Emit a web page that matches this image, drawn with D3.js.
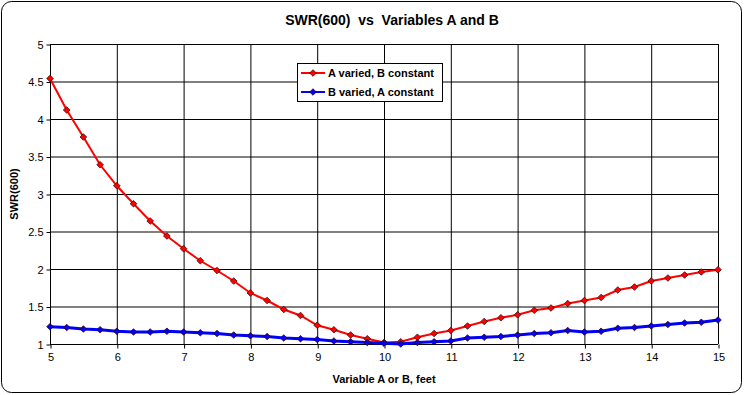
<!DOCTYPE html>
<html>
<head>
<meta charset="utf-8">
<script src="https://cdn.jsdelivr.net/npm/d3@7"></script>
<style>
  body { margin: 0; background: #fff; }
  text { font-family: "Liberation Sans", Arial, sans-serif; }
</style>
</head>
<body>
<svg id="chart" width="745" height="395"></svg>
<script>
// x positions (feet), same for both series
const feet = [5, 5.25, 5.5, 5.75, 6, 6.25, 6.5, 6.75, 7, 7.25, 7.5, 7.75, 8, 8.25, 8.5, 8.75,
  9, 9.25, 9.5, 9.75, 10, 10.25, 10.5, 10.75, 11, 11.25, 11.5, 11.75, 12, 12.25, 12.5, 12.75,
  13, 13.25, 13.5, 13.75, 14, 14.25, 14.5, 14.75, 15]

const aVaried = [4.54, 4.12, 3.76, 3.39, 3.11, 2.87, 2.64, 2.44, 2.27, 2.11, 1.98, 1.84,
  1.68, 1.58, 1.46, 1.38, 1.25, 1.19, 1.12, 1.07, 1.02, 1.03, 1.09, 1.14, 1.18, 1.24,
  1.30, 1.35, 1.39, 1.45, 1.48, 1.54, 1.58, 1.62, 1.72, 1.76, 1.84, 1.88, 1.92, 1.96, 1.99]

const bVaried = [1.23, 1.22, 1.20, 1.19, 1.17, 1.16, 1.16, 1.17, 1.16, 1.15, 1.14, 1.12,
  1.11, 1.10, 1.08, 1.07, 1.06, 1.04, 1.03, 1.02, 1.01, 1.00, 1.02, 1.03, 1.04, 1.08,
  1.09, 1.10, 1.12, 1.14, 1.15, 1.18, 1.16, 1.17, 1.21, 1.22, 1.24, 1.26, 1.28, 1.29, 1.32]

const xTicks = [5, 6, 7, 8, 9, 10, 11, 12, 13, 14, 15]
const yTicks = [1, 1.5, 2, 2.5, 3, 3.5, 4, 4.5, 5]

const seriesNames = ['A varied, B constant', 'B varied, A constant']
const seriesColors = ['#ff0000', '#0000ff']
const seriesWidths = [2, 3]

const svg = d3.select('#chart')

// outer frame
svg.append('rect')
    .attr('x', 1.5).attr('y', 1.5)
    .attr('width', 740).attr('height', 391)
    .attr('rx', 10).attr('ry', 10)
    .attr('fill', '#fff')
    .attr('stroke', '#000')
    .attr('stroke-width', 1)

const plot = {left: 50, right: 718, top: 44, bottom: 344}

const x = d3.scaleLinear().domain([5, 15]).range([plot.left, plot.right])
const y = d3.scaleLinear().domain([1, 5]).range([plot.bottom, plot.top])

// gridlines
svg.append('g')
  .selectAll('line')
  .data(xTicks)
  .enter().append('line')
    .attr('x1', d => x(d) + 0.5).attr('x2', d => x(d) + 0.5)
    .attr('y1', plot.top).attr('y2', plot.bottom)
    .attr('stroke', '#000')

svg.append('g')
  .selectAll('line')
  .data(yTicks)
  .enter().append('line')
    .attr('x1', plot.left).attr('x2', plot.right)
    .attr('y1', d => y(d) + 0.5).attr('y2', d => y(d) + 0.5)
    .attr('stroke', '#000')

// axes
const xAxis = d3.axisBottom(x).tickValues(xTicks).tickSize(4).tickPadding(5).tickFormat(d3.format('d'))
const yAxis = d3.axisLeft(y).tickValues(yTicks).tickSize(4).tickPadding(3).tickFormat(d => d)

svg.append('g')
    .attr('transform', 'translate(0.5,' + (plot.bottom + 0.5) + ')')
    .call(xAxis)
    .call(g => g.select('.domain').remove())
    .call(g => g.selectAll('text').attr('font-size', 11).attr('fill', '#000').attr('font-family', '"Liberation Sans", Arial, sans-serif'))
    .call(g => g.selectAll('line').attr('stroke', '#000'))

svg.append('g')
    .attr('transform', 'translate(' + (plot.left + 0.5) + ',0.5)')
    .call(yAxis)
    .call(g => g.select('.domain').remove())
    .call(g => g.selectAll('text').attr('font-size', 11).attr('fill', '#000').attr('font-family', '"Liberation Sans", Arial, sans-serif'))
    .call(g => g.selectAll('line').attr('stroke', '#000'))

// series
const line = d3.line()
    .x((d, i) => x(feet[i]))
    .y(d => y(d))

// squat diamond: a square turned 45 degrees
const marker = d3.symbol().type(d3.symbolSquare).size(22)

;[aVaried, bVaried].forEach((vals, k) => {
  const g = svg.append('g')
  g.append('path')
      .datum(vals)
      .attr('d', line)
      .attr('fill', 'none')
      .attr('stroke', seriesColors[k])
      .attr('stroke-width', seriesWidths[k])
  g.selectAll('path.pt')
      .data(vals)
    .enter().append('path')
      .attr('class', 'pt')
      .attr('d', marker)
      .attr('transform', (d, i) => 'translate(' + x(feet[i]) + ',' + y(d) + ') rotate(45)')
      .attr('fill', seriesColors[k])
      .attr('stroke', '#300')
      .attr('stroke-width', 0.7)
})

// legend
const lg = svg.append('g').attr('transform', 'translate(297,63)')
lg.append('rect')
    .attr('x', 0.5).attr('y', 0.5)
    .attr('width', 145).attr('height', 38)
    .attr('fill', '#fff')
    .attr('stroke', '#000')

seriesNames.forEach((name, k) => {
  const cy = 10 + k * 19
  lg.append('line')
      .attr('x1', 4).attr('x2', 28)
      .attr('y1', cy).attr('y2', cy)
      .attr('stroke', seriesColors[k])
      .attr('stroke-width', 2)
  lg.append('path')
      .attr('d', marker)
      .attr('transform', 'translate(16,' + cy + ') rotate(45)')
      .attr('fill', seriesColors[k])
      .attr('stroke', '#300')
      .attr('stroke-width', 0.7)
  lg.append('text')
      .attr('x', 31).attr('y', cy + 4)
      .attr('font-size', 11)
      .attr('font-weight', 'bold')
      .text(name)
})

// titles
svg.append('text')
    .attr('x', 392).attr('y', 25)
    .attr('text-anchor', 'middle')
    .attr('font-size', 14)
    .attr('font-weight', 'bold')
    .attr('xml:space', 'preserve')
    .text('SWR(600)  vs  Variables A and B')

svg.append('text')
    .attr('x', 384).attr('y', 383)
    .attr('text-anchor', 'middle')
    .attr('font-size', 11)
    .attr('font-weight', 'bold')
    .text('Variable A or B, feet')

svg.append('text')
    .attr('transform', 'translate(18,194) rotate(-90)')
    .attr('text-anchor', 'middle')
    .attr('font-size', 11)
    .attr('font-weight', 'bold')
    .text('SWR(600)')
</script>
</body>
</html>
